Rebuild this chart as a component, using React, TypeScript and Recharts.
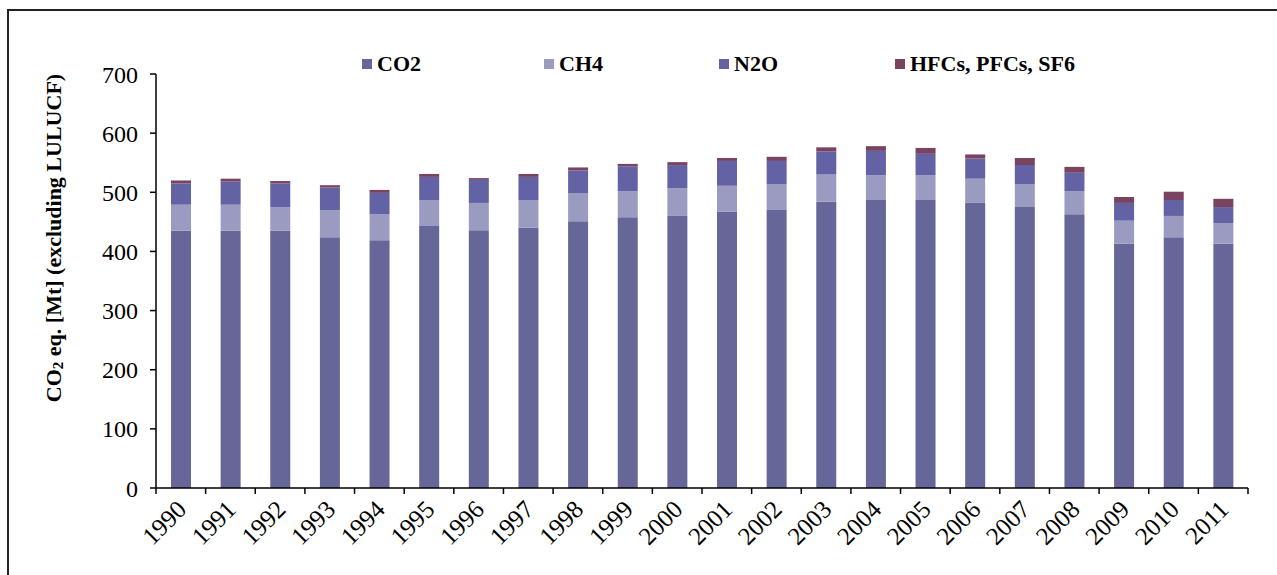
import React from 'react';
import { BarChart, Bar, XAxis, YAxis } from 'recharts';

const years = [
  '1990', '1991', '1992', '1993', '1994', '1995', '1996', '1997', '1998', '1999', '2000',
  '2001', '2002', '2003', '2004', '2005', '2006', '2007', '2008', '2009', '2010', '2011',
];
const co2 = [435, 435, 435, 424, 419, 443, 436, 440, 451, 458, 460, 467, 470, 484, 487, 487, 482, 475, 463, 413, 424, 413];
const ch4 = [44, 44, 40, 46, 44, 44, 46, 47, 47, 44, 47, 44, 44, 46, 42, 42, 41, 39, 39, 39, 36, 35];
const n2o = [36, 39, 40, 38, 36, 39, 39, 39, 39, 42, 39, 42, 39, 39, 41, 36, 34, 32, 31, 30, 27, 27];
const fgas = [5, 5, 4, 4, 5, 5, 3, 5, 5, 4, 5, 5, 7, 7, 8, 10, 7, 12, 10, 10, 14, 14];
const yTicks = [0, 100, 200, 300, 400, 500, 600, 700];

const series = [
  { key: 'co2', name: 'CO2', color: '#666699' },
  { key: 'ch4', name: 'CH4', color: '#9b9bc2' },
  { key: 'n2o', name: 'N2O', color: '#6262a5' },
  { key: 'fgas', name: 'HFCs, PFCs, SF6', color: '#7a4460' },
];

const data = years.map((year, i) => ({
  year,
  co2: co2[i],
  ch4: ch4[i],
  n2o: n2o[i],
  fgas: fgas[i],
}));

const FONT = '"Liberation Serif", "Times New Roman", serif';

const legendX = [362, 544, 719, 895];

function YearTick(props: any) {
  const { x, y, payload, index, visibleTicksCount } = props;
  const half = payload && payload.offset ? payload.offset : (1248 - 156) / 22 / 2;
  const last = index === (visibleTicksCount ?? years.length) - 1;
  return (
    <g>
      <line x1={x - half} y1={y} x2={x - half} y2={y + 6} stroke="#000" strokeWidth={1.5} />
      {last && <line x1={x + half} y1={y} x2={x + half} y2={y + 6} stroke="#000" strokeWidth={1.5} />}
      <text
        x={x + 7}
        y={y + 23}
        textAnchor="end"
        transform={`rotate(-45, ${x + 7}, ${y + 23})`}
        fontFamily={FONT}
        fontSize={25}
        fill="#000"
      >
        {payload.value}
      </text>
    </g>
  );
}

function YLabel() {
  return (
    <text
      x={53}
      y={238}
      transform="rotate(-90, 53, 238)"
      textAnchor="middle"
      dominantBaseline="central"
      fontFamily={FONT}
      fontSize={22}
      fontWeight="bold"
      fill="#000"
    >
      CO<tspan fontSize={15} dy={5}>2</tspan>
      <tspan dy={-5}> eq. [Mt] (excluding LULUCF)</tspan>
    </text>
  );
}

export default function App() {
  return (
    <div
      style={{
        position: 'fixed',
        left: 0,
        top: 0,
        width: 1277,
        height: 575,
        overflow: 'hidden',
        background: '#fff',
      }}
    >
      <div
        style={{
          position: 'absolute',
          left: 7,
          top: 9,
          width: 1300,
          height: 600,
          borderTop: '2px solid #222',
          borderLeft: '2px solid #222',
        }}
      />
      {series.map((s, i) => (
        <div
          key={s.key}
          style={{
            position: 'absolute',
            left: legendX[i],
            top: 51,
            height: 26,
            display: 'flex',
            alignItems: 'center',
            fontFamily: FONT,
            fontWeight: 'bold',
            fontSize: 22,
            color: '#000',
            whiteSpace: 'nowrap',
          }}
        >
          <span style={{ width: 10, height: 10, background: s.color, marginRight: 5, display: 'inline-block' }} />
          {s.name}
        </div>
      ))}
      <div style={{ position: 'absolute', left: 0, top: 0 }}>
        <BarChart
          width={1277}
          height={575}
          data={data}
          margin={{ top: 74, right: 29, left: 96, bottom: 7 }}
          barSize={20}
        >
          <XAxis
            dataKey="year"
            interval={0}
            height={80}
            axisLine={{ stroke: '#000', strokeWidth: 1.5 }}
            tickLine={false}
            tickSize={0}
            tickMargin={0}
            tick={<YearTick />}
          />
          <YAxis
            width={60}
            domain={[0, 700]}
            ticks={yTicks}
            interval={0}
            axisLine={{ stroke: '#000', strokeWidth: 1.5 }}
            tickLine={{ stroke: '#000', strokeWidth: 1.5 }}
            tickSize={6}
            tickMargin={12}
            tick={{ fontFamily: FONT, fontSize: 24, fill: '#000' }}
            label={{ content: () => <YLabel /> }}
          />
          {series.map((s) => (
            <Bar key={s.key} dataKey={s.key} name={s.name} stackId="a" fill={s.color} isAnimationActive={false} />
          ))}
        </BarChart>
      </div>
    </div>
  );
}
